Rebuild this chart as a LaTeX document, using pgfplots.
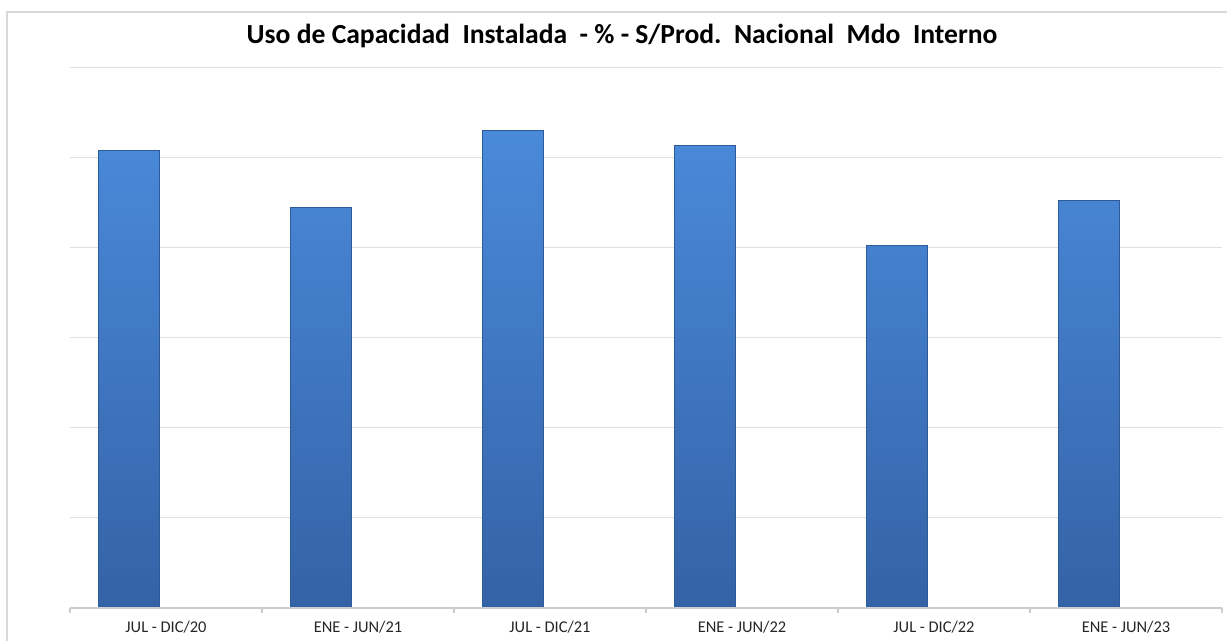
\documentclass[border=0pt]{standalone}
\usepackage{fontspec}
\setmainfont{Carlito}
\usepackage{pgfplots}
\pgfplotsset{compat=1.18}
\definecolor{bartop}{HTML}{4A8ADA}
\definecolor{barbot}{HTML}{3462A6}
\definecolor{baredge}{HTML}{2E5B98}
\begin{document}
\begin{tikzpicture}
\useasboundingbox (0pt,0pt) rectangle (613.5pt,320.5pt);
\fill[white] (0pt,0pt) rectangle (613.5pt,320.5pt);
\draw[gray!30,line width=0.8pt] (3.5pt,-5pt) -- (3.5pt,314.5pt) -- (640pt,314.5pt);
\node[font=\bfseries\fontsize{13.8}{15}\selectfont, anchor=center] at (311pt,302.5pt) {Uso de Capacidad\ \ Instalada\ \ -\ \% -\ S/Prod.\ \ Nacional\ \ Mdo\ \ Interno};
\begin{axis}[
  at={(35pt,16.5pt)}, anchor=south west,
  scale only axis, width=576pt, height=270pt,
  xmin=-0.5, xmax=5.5, ymin=0, ymax=60,
  axis line style={draw=none},
  xtick={0,1,2,3,4,5},
  xticklabels={JUL - DIC/20, ENE - JUN/21, JUL - DIC/21, ENE - JUN/22, JUL - DIC/22, ENE - JUN/23},
  major x tick style={draw=none},
  minor xtick={-0.5,0.5,1.5,2.5,3.5,4.5,5.5},
  minor x tick style={gray!40, line width=0.6pt},
  minor tick length=2.5pt, tick align=outside,
  xtick pos=bottom,
  x tick label style={font=\fontsize{8.2}{9}\selectfont, text=black!85, yshift=1pt},
  ytick={10,20,30,40,50,60}, yticklabels={},
  major y tick style={draw=none},
  ymajorgrids, major grid style={gray!25, line width=0.5pt},
  clip=false,
]
\addplot[ybar, bar width=30.5pt, bar shift=0pt, top color=bartop, bottom color=barbot, draw=baredge, line width=0.5pt]
coordinates {(-0.195,50.8) (0.805,44.5) (1.805,53.1) (2.805,51.4) (3.805,40.3) (4.805,45.3)};
\draw[gray!40, line width=0.6pt] (axis cs:-0.5,0) -- (axis cs:5.5,0);
\end{axis}
\end{tikzpicture}
\end{document}
